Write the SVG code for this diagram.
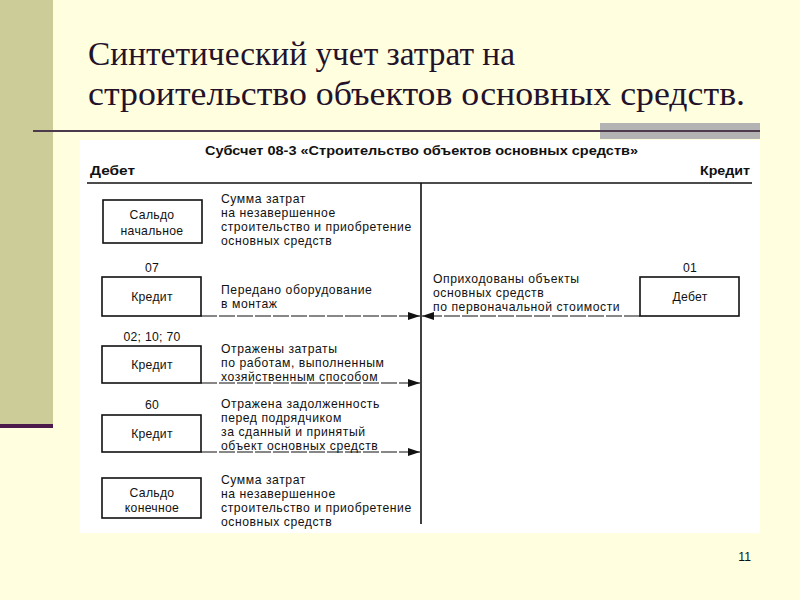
<svg xmlns="http://www.w3.org/2000/svg" width="800" height="600" viewBox="0 0 800 600">
  <defs>
    <style>
      .title { font-family: "Liberation Serif", "Times New Roman", serif; font-size: 34px; fill: #24122a; }
      .t { font-family: "Liberation Sans", Arial, sans-serif; font-size: 12.2px; letter-spacing: 0.55px; fill: #111; }
      .n { font-size: 12.2px; letter-spacing: 0.3px; }
      .c { text-anchor: middle; }
      .b { font-weight: bold; letter-spacing: 0; }
      .box { fill: #fff; stroke: #111; stroke-width: 1.6; }
      .conn { stroke: #111; stroke-width: 1.2; stroke-dasharray: 16 2; fill: none; }
      .axis { stroke: #111; stroke-width: 1.6; fill: none; }
    </style>
    <marker id="arr" viewBox="0 0 12 8" refX="12" refY="4" markerWidth="12" markerHeight="8" markerUnits="userSpaceOnUse" orient="auto">
      <path d="M0,0 L12,4 L0,8 Z" fill="#111"/>
    </marker>
  </defs>

  <!-- background -->
  <rect x="0" y="0" width="800" height="600" fill="#FFFFE0"/>
  <rect x="0" y="0" width="53" height="424" fill="#CCCC99"/>
  <rect x="0" y="424" width="53" height="4" fill="#4B1A4B"/>
  <rect x="600" y="123" width="160" height="16" fill="#B3B3B3"/>
  <line x1="33" y1="131" x2="760" y2="131" stroke="#4D3A4D" stroke-width="2"/>

  <!-- title -->
  <g id="title">
    <text class="title" x="88" y="65" textLength="427" lengthAdjust="spacingAndGlyphs">Синтетический учет затрат на</text>
    <text class="title" x="88" y="105" textLength="657" lengthAdjust="spacingAndGlyphs">строительство объектов основных средств.</text>
  </g>

  <!-- white scan area -->
  <rect x="80" y="140" width="680" height="393" fill="#FFFFFF"/>

  <g id="header">
    <text class="t b" x="205" y="155" font-size="12.5" textLength="433" lengthAdjust="spacingAndGlyphs">Субсчет 08-3 «Строительство объектов основных средств»</text>
    <text class="t b" x="90" y="175" font-size="13" textLength="45" lengthAdjust="spacingAndGlyphs">Дебет</text>
    <text class="t b" x="700" y="175" font-size="13" textLength="50" lengthAdjust="spacingAndGlyphs">Кредит</text>
  </g>

  <g id="axes">
    <line class="axis" x1="87" y1="183" x2="752" y2="183"/>
    <line class="axis" x1="421" y1="183" x2="421" y2="524" stroke-width="2"/>
  </g>

  <g id="connectors">
    <line class="conn" x1="201" y1="316" x2="420" y2="316" marker-end="url(#arr)"/>
    <line class="conn" x1="640" y1="316" x2="422" y2="316" marker-end="url(#arr)"/>
    <line class="conn" x1="201" y1="383" x2="420" y2="383" marker-end="url(#arr)"/>
    <line class="conn" x1="201" y1="452" x2="420" y2="452" marker-end="url(#arr)"/>
  </g>

  <g id="saldo-start">
    <rect class="box" x="103" y="200" width="99" height="43"/>
    <text class="t n c" x="152" y="219">Сальдо</text>
    <text class="t n c" x="152" y="235">начальное</text>
    <text class="t" x="221" y="203">Сумма затрат</text>
    <text class="t" x="221" y="217">на незавершенное</text>
    <text class="t" x="221" y="231">строительство и приобретение</text>
    <text class="t" x="221" y="245">основных средств</text>
  </g>

  <g id="credit-07">
    <text class="t n c" x="152" y="272">07</text>
    <rect class="box" x="102" y="277" width="99" height="39"/>
    <text class="t n c" x="152" y="301">Кредит</text>
    <text class="t" x="221" y="294">Передано оборудование</text>
    <text class="t" x="221" y="308">в монтаж</text>
  </g>

  <g id="debit-01">
    <text class="t n c" x="690" y="272">01</text>
    <rect class="box" x="640" y="277" width="99" height="39"/>
    <text class="t n c" x="690" y="301">Дебет</text>
    <text class="t" x="433" y="283">Оприходованы объекты</text>
    <text class="t" x="433" y="297">основных средств</text>
    <text class="t" x="433" y="311">по первоначальной стоимости</text>
  </g>

  <g id="credit-02-10-70">
    <text class="t n c" x="152" y="341">02; 10; 70</text>
    <rect class="box" x="102" y="346" width="99" height="37"/>
    <text class="t n c" x="152" y="369">Кредит</text>
    <text class="t" x="221" y="353">Отражены затраты</text>
    <text class="t" x="221" y="367">по работам, выполненным</text>
    <text class="t" x="221" y="381">хозяйственным способом</text>
  </g>

  <g id="credit-60">
    <text class="t n c" x="152" y="409">60</text>
    <rect class="box" x="102" y="415" width="99" height="37"/>
    <text class="t n c" x="152" y="438">Кредит</text>
    <text class="t" x="221" y="408">Отражена задолженность</text>
    <text class="t" x="221" y="422">перед подрядчиком</text>
    <text class="t" x="221" y="436">за сданный и принятый</text>
    <text class="t" x="221" y="450">объект основных средств</text>
  </g>

  <g id="saldo-end">
    <rect class="box" x="102" y="478" width="99" height="40"/>
    <text class="t n c" x="152" y="497">Сальдо</text>
    <text class="t n c" x="152" y="512">конечное</text>
    <text class="t" x="221" y="484">Сумма затрат</text>
    <text class="t" x="221" y="498">на незавершенное</text>
    <text class="t" x="221" y="512">строительство и приобретение</text>
    <text class="t" x="221" y="526">основных средств</text>
  </g>

  <text class="t" x="751" y="561" font-size="10" text-anchor="end" fill="#333" style="letter-spacing:0">11</text>
</svg>
